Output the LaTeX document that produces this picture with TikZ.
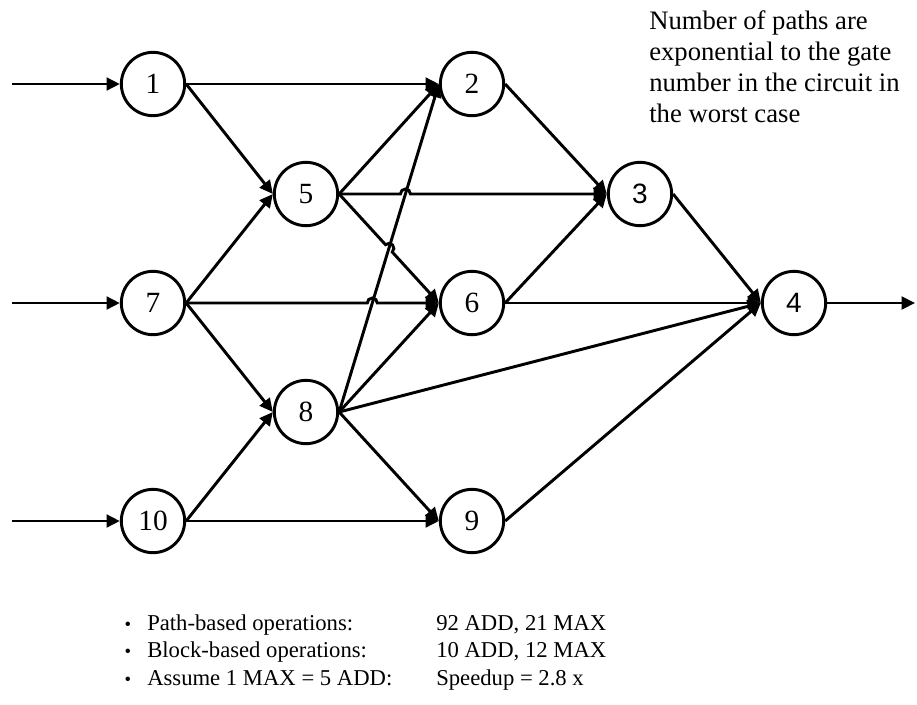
\documentclass[tikz,border=0pt]{standalone}
\usepackage{fontspec}
\setmainfont{Liberation Serif}
\newfontfamily\arialfont{Liberation Sans}
\usetikzlibrary{arrows.meta,calc}
\begin{document}
\begin{tikzpicture}[x=0.75pt,y=0.75pt,
  gate/.style={circle,draw,line width=2.2pt,minimum size=47.5pt,inner sep=0pt,
    font=\fontsize{22}{26}\selectfont},
  sansgate/.style={gate,font=\arialfont\fontsize{21}{25}\selectfont},
  wire/.style={line width=2.2pt,-{Triangle[length=10pt,width=9.5pt]}},
  note/.style={anchor=north west,align=left,inner sep=0pt,font=\fontsize{20}{23.25}\selectfont},
  item/.style={anchor=base west,inner sep=0pt,font=\fontsize{17}{20}\selectfont},
  dot/.style={anchor=base,inner sep=0pt,font=\fontsize{14}{16}\selectfont}]
\useasboundingbox (0,0) rectangle (917,-704);

% gates
\node[gate] (n1) at (153,-84) {1};
\node[gate] (n5) at (306,-194) {5};
\node[gate] (n7) at (153,-303) {7};
\node[gate] (n8) at (306,-412) {8};
\node[gate] (n10) at (153,-521) {10};
\node[gate] (n2) at (472,-84) {2};
\node[gate] (n6) at (472,-303) {6};
\node[gate] (n9) at (472,-521) {9};
\node[sansgate] (n3) at (640,-194) {3};
\node[sansgate] (n4) at (794,-303) {4};

% primary inputs and output
\coordinate (i1) at (12,-84);
\coordinate (i7) at (12,-303);
\coordinate (i10) at (12,-521);
\coordinate (o4) at (915,-303);
\draw[wire] (i1) -- (n1.west);
\draw[wire] (i7) -- (n7.west);
\draw[wire] (i10) -- (n10.west);
\draw[wire] (n4.east) -- (o4);

% crossing points with the long 8 -> 2 wire
\coordinate (xa) at (intersection of n8.east--n2.west and n5.east--n3.west);
\coordinate (xb) at (intersection of n8.east--n2.west and n5.east--n6.west);
\coordinate (xc) at (intersection of n8.east--n2.west and n7.east--n6.west);

% plain wires
\draw[wire] (n1.east) -- (n2.west);
\draw[wire] (n1.east) -- (n5.west);
\draw[wire] (n5.east) -- (n2.west);
\draw[wire] (n7.east) -- (n5.west);
\draw[wire] (n7.east) -- (n8.west);
\draw[wire] (n10.east) -- (n8.west);
\draw[wire] (n10.east) -- (n9.west);
\draw[wire] (n8.east) -- (n2.west);
\draw[wire] (n8.east) -- (n6.west);
\draw[wire] (n8.east) -- (n9.west);
\draw[wire] (n8.east) -- (n4.west);
\draw[wire] (n2.east) -- (n3.west);
\draw[wire] (n6.east) -- (n3.west);
\draw[wire] (n6.east) -- (n4.west);
\draw[wire] (n3.east) -- (n4.west);
\draw[wire] (n9.east) -- (n4.west);

% wires that hop over the 8 -> 2 wire
\draw[wire] (n5.east) -- ($(xa)+(-5,0)$) arc[start angle=180,end angle=0,radius=5] -- (n3.west);
\draw[wire] (n7.east) -- ($(xc)+(-5,0)$) arc[start angle=180,end angle=0,radius=5] -- (n6.west);
\draw[wire] (n5.east) -- ($(xb)!3.75pt!(n5.east)$) arc[start angle=132.5,end angle=-47.5,radius=5] -- (n6.west);

% remark
\node[note] (remark) at (649,-10) {Number of paths are\\exponential to the gate\\number in the circuit in\\the worst case};

% operation counts
\node[dot] (b1) at (128,-630) {•};
\node[dot] (b2) at (128,-657.5) {•};
\node[dot] (b3) at (128,-685) {•};
\node[item] (l1) at (147,-630) {Path-based operations:};
\node[item] (l2) at (147,-657.5) {Block-based operations:};
\node[item] (l3) at (147,-685) {Assume 1 MAX = 5 ADD:};
\node[item] (r1) at (436,-630) {92 ADD, 21 MAX};
\node[item] (r2) at (436,-657.5) {10 ADD, 12 MAX};
\node[item] (r3) at (436,-685) {Speedup = 2.8 x};
\end{tikzpicture}
\end{document}
